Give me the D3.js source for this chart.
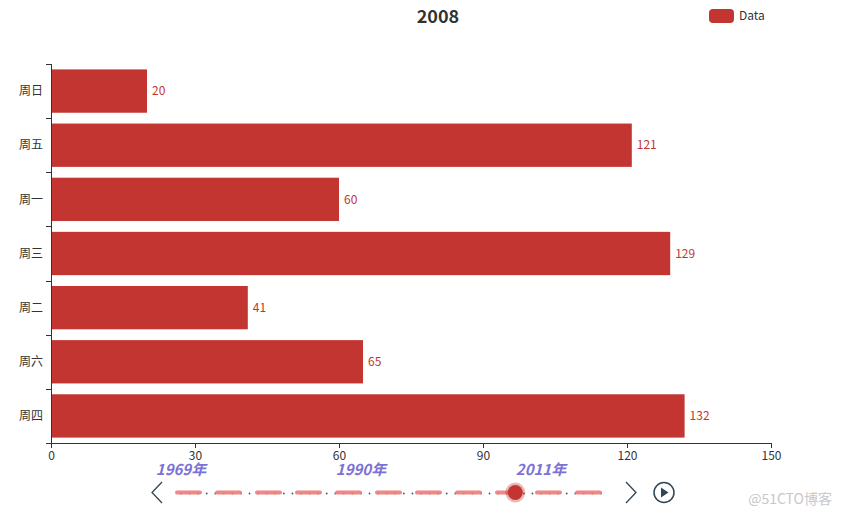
<!DOCTYPE html>
<html><head><meta charset="utf-8">
<script src="https://cdn.jsdelivr.net/npm/d3@7/dist/d3.min.js"></script>
<style>body{margin:0;background:#fff}svg{display:block}text{font-family:"Microsoft YaHei","Noto Sans CJK SC",sans-serif}</style>
</head><body><svg id="c" width="842" height="518"></svg>
<script>
const categories = ["周日","周五","周一","周三","周二","周六","周四"];
const values = [20,121,60,129,41,65,132];
const xTicks = [0,30,60,90,120,150];
const title = "2008";
const seriesName = "Data";
const years = d3.range(1969, 2019);
const yearLabels = [1969, 1990, 2011];
const currentYear = 2008;

const svg = d3.select("#c");
const red = "#c23531";
const x = d3.scaleLinear().domain([0,150]).range([51,771]);
const y = d3.scaleBand().domain(categories).range([64,443]).paddingInner(0.2).paddingOuter(0.1);
const yEdge = d3.scaleLinear().domain([0,categories.length]).range([64,443]);

// title
svg.append("text").attr("x",438).attr("y",23).attr("text-anchor","middle")
  .attr("font-size",18).attr("font-weight","bold").attr("fill","#333").text(title);
// legend
svg.append("rect").attr("x",709).attr("y",9).attr("width",25).attr("height",14).attr("rx",4).attr("fill",red);
svg.append("text").attr("x",739).attr("y",16).attr("dy","0.35em").attr("font-size",12).attr("fill","#333").text(seriesName);

// bars
svg.selectAll("rect.bar").data(values).join("rect").attr("class","bar")
  .attr("x",x(0)).attr("y",(d,i)=>y(categories[i])).attr("width",d=>x(d)-x(0))
  .attr("height",y.bandwidth()).attr("fill",red);
svg.selectAll("text.val").data(values).join("text").attr("class","val")
  .attr("x",d=>x(d)+5).attr("y",(d,i)=>y(categories[i])+y.bandwidth()/2).attr("dy","0.35em")
  .attr("font-size",12).attr("fill",red).text(d=>d);

// x axis
const xa = svg.append("g").attr("transform","translate(0,443)")
  .call(d3.axisBottom(x).tickValues(xTicks).tickSize(5).tickPadding(3));
xa.selectAll("text").attr("font-size",12).attr("fill","#333").attr("font-family",null);
xa.selectAll("line,path").attr("stroke","#333");
xa.select("path").attr("d","M51,0.5H771");

// y axis
svg.append("line").attr("x1",51.5).attr("x2",51.5).attr("y1",64).attr("y2",443).attr("stroke","#333");
svg.selectAll("line.yt").data(d3.range(categories.length+1)).join("line").attr("class","yt")
  .attr("x1",46).attr("x2",51).attr("y1",d=>Math.round(yEdge(d))+0.5).attr("y2",d=>Math.round(yEdge(d))+0.5).attr("stroke","#333");
svg.selectAll("text.yl").data(categories).join("text").attr("class","yl")
  .attr("x",43).attr("y",d=>y(d)+y.bandwidth()/2).attr("dy","0.35em").attr("text-anchor","end")
  .attr("font-size",12).attr("fill","#333").text(d=>d);

// timeline
const t = d3.scalePoint().domain(years).range([181,601]);
const ty = 492.5;
svg.selectAll("circle.tk").data(years).join("circle").attr("class","tk")
  .attr("cx",d=>t(d)).attr("cy",ty+1).attr("r",0.9).attr("fill","#555");
svg.append("line").attr("x1",177).attr("x2",602).attr("y1",ty).attr("y2",ty)
  .attr("stroke","#f08080").attr("stroke-width",4).attr("stroke-linecap","round")
  .attr("stroke-dasharray","23 17").attr("opacity",0.95);
svg.selectAll("text.yr").data(yearLabels).join("text").attr("class","yr")
  .attr("x",d=>t(d)).attr("y",475).attr("text-anchor","middle").attr("font-size",15)
  .attr("font-style","italic").attr("font-weight","bold").attr("fill","#7b72d6").text(d=>d+"年");
svg.append("circle").attr("cx",t(currentYear)).attr("cy",ty).attr("r",10).attr("fill","rgba(194,53,49,0.35)");
svg.append("circle").attr("cx",t(currentYear)).attr("cy",ty).attr("r",7.5).attr("fill",red);
// controls
svg.append("path").attr("d","M162,482L152,492.5L162,503").attr("fill","none").attr("stroke","#304654").attr("stroke-width",1.3);
svg.append("path").attr("d","M626,482L636,492.5L626,503").attr("fill","none").attr("stroke","#304654").attr("stroke-width",1.3);
svg.append("circle").attr("cx",664).attr("cy",492.5).attr("r",10).attr("fill","none").attr("stroke","#304654").attr("stroke-width",1.5);
svg.append("path").attr("d","M661,487.5L668.5,492.5L661,497.5Z").attr("fill","#304654");

// watermark
svg.append("text").attr("x",832).attr("y",504).attr("text-anchor","end").attr("font-size",14).attr("fill","#c8c8c8").text("@51CTO博客");
</script></body></html>
